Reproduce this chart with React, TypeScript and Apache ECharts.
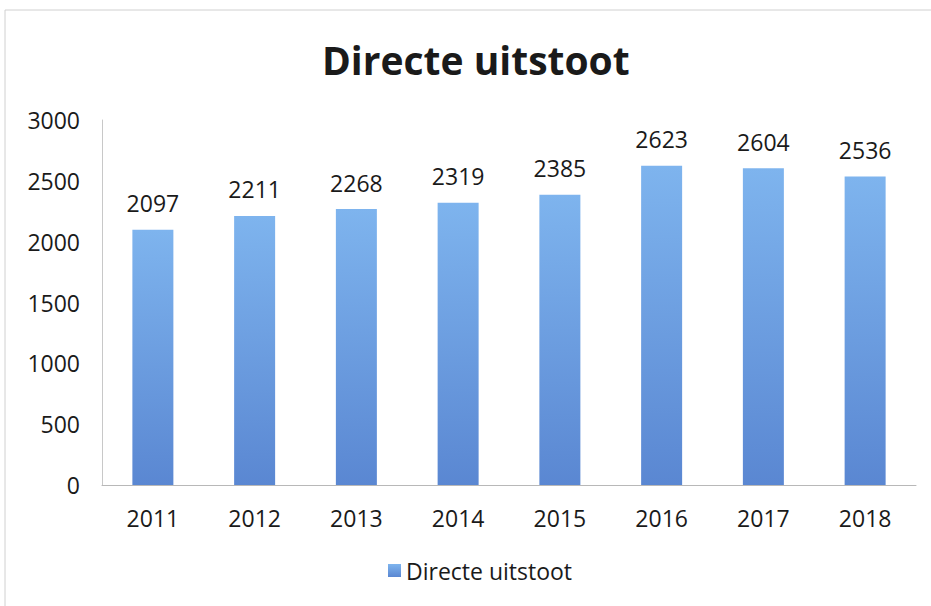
import React, { useEffect, useRef } from "react";
import * as echarts from "echarts";

const categories = ["2011", "2012", "2013", "2014", "2015", "2016", "2017", "2018"];
const values = [2097, 2211, 2268, 2319, 2385, 2623, 2604, 2536];
const seriesName = "Directe uitstoot";
const titleText = "Directe uitstoot";

export default function App() {
  const ref = useRef<HTMLDivElement>(null);
  useEffect(() => {
    document.body.style.margin = "0";
    if (!ref.current) return;
    const chart = echarts.init(ref.current, null, { renderer: "svg" });
    const font = "'Open Sans', 'Noto Sans', sans-serif";
    chart.setOption({
      animation: false,
      backgroundColor: "#ffffff",
      title: {
        text: titleText,
        left: 322,
        top: 40,
        padding: 0,
        textStyle: { fontFamily: font, fontWeight: "bold", fontSize: 39, color: "#1a1a1a" },
      },
      legend: {
        top: 559,
        left: 388,
        padding: 0,
        itemWidth: 13,
        itemHeight: 13,
        itemGap: 10,
        icon: "rect",
        textStyle: { fontFamily: font, fontSize: 23, color: "#1a1a1a" },
        data: [seriesName],
      },
      grid: { left: 102, right: 15, top: 120, bottom: 121, containLabel: false },
      xAxis: {
        type: "category",
        data: categories,
        axisLine: { lineStyle: { color: "#b8b8b8", width: 1 } },
        axisTick: { show: false },
        axisLabel: { fontFamily: font, fontSize: 23, color: "#1a1a1a", margin: 21 },
      },
      yAxis: {
        type: "value",
        min: 0,
        max: 3000,
        interval: 500,
        axisLine: { show: true, lineStyle: { color: "#c8c8c8", width: 1 } },
        axisTick: { show: false },
        splitLine: { show: false },
        axisLabel: {
          fontFamily: font,
          fontSize: 23,
          color: "#1a1a1a",
          margin: 22,
          formatter: (v: number) => String(v),
        },
      },
      series: [
        {
          name: seriesName,
          type: "bar",
          data: values,
          barWidth: 41,
          itemStyle: {
            color: new echarts.graphic.LinearGradient(0, 0, 0, 1, [
              { offset: 0, color: "#7eb4ee" },
              { offset: 1, color: "#5a87d2" },
            ]),
          },
          label: {
            show: true,
            position: "top",
            distance: 15,
            fontFamily: font,
            fontSize: 23,
            color: "#1a1a1a",
          },
        },
      ],
      graphic: [
        {
          type: "rect",
          shape: { x: 5, y: 10, width: 940, height: 610 },
          style: { fill: "none", stroke: "#d0d0d0", lineWidth: 1 },
          silent: true,
        },
      ],
    });
    return () => chart.dispose();
  }, []);
  return <div ref={ref} style={{ width: 931, height: 606 }} />;
}
